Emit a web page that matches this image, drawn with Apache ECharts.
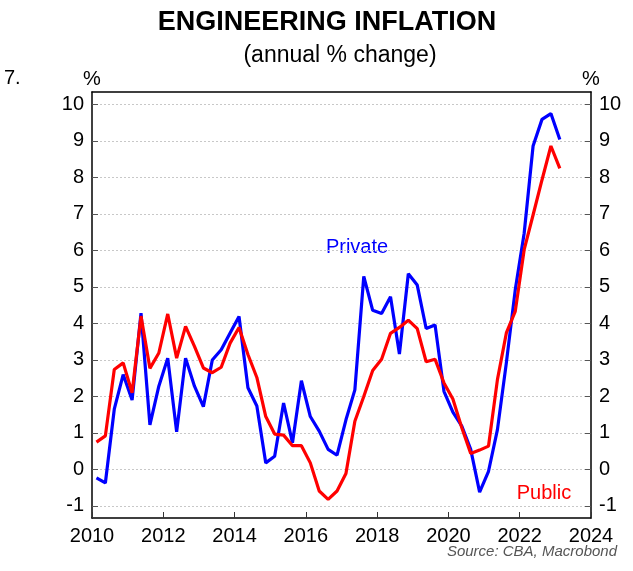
<!DOCTYPE html>
<html>
<head>
<meta charset="utf-8">
<script src="https://cdn.jsdelivr.net/npm/echarts@6/dist/echarts.min.js"></script>
<style>
html,body{margin:0;padding:0;background:#fff;}
#chart{width:633px;height:571px;}
</style>
</head>
<body>
<div id="chart"></div>
<script>
// Quarterly observations, Q1 2010 .. Q1 2023 (plotted at mid-quarter)
const startYear = 2010;
const privateVals = [
  -0.23, -0.37, 1.65, 2.60, 1.90, 4.28, 1.22, 2.28, 3.05, 1.03,
  3.05, 2.28, 1.72, 3.00, 3.28, 3.74, 4.19, 2.24, 1.74, 0.18,
  0.36, 1.82, 0.73, 2.43, 1.45, 1.05, 0.55, 0.39, 1.36, 2.18,
  5.29, 4.36, 4.27, 4.73, 3.16, 5.36, 5.05, 3.86, 3.96, 2.14,
  1.57, 1.19, 0.55, -0.62, -0.05, 1.09, 2.92, 4.92, 6.47, 8.86,
  9.59, 9.75, 9.04
];
const publicVals = [
  0.75, 0.92, 2.74, 2.92, 2.10, 4.20, 2.77, 3.19, 4.26, 3.05,
  3.92, 3.37, 2.78, 2.65, 2.80, 3.46, 3.89, 3.15, 2.52, 1.45,
  0.97, 0.94, 0.65, 0.65, 0.18, -0.59, -0.82, -0.59, -0.11, 1.32,
  2.00, 2.71, 3.02, 3.73, 3.89, 4.09, 3.86, 2.95, 3.02, 2.37,
  1.93, 1.14, 0.44, 0.53, 0.64, 2.46, 3.74, 4.33, 6.02, 6.97,
  7.93, 8.86, 8.25
];
const yTicks = [-1, 0, 1, 2, 3, 4, 5, 6, 7, 8, 9, 10];
const xTicks = [2010, 2012, 2014, 2016, 2018, 2020, 2022, 2024];

// quarter index -> decimal year at mid-quarter
function qDate(i) { return startYear + Math.floor(i / 4) + ((i % 4) + 0.5) / 4; }
const privData = privateVals.map((v, i) => [qDate(i), v]);
const pubData = publicVals.map((v, i) => [qDate(i), v]);

const FONT = '"Liberation Sans", Arial, sans-serif';
const chart = echarts.init(document.getElementById('chart'), null, {renderer: 'canvas'});

const yCommon = {
  type: 'value', min: -1.33, max: 10.34,
  axisLine: {show: true, lineStyle: {color: '#000', width: 1.5}},
  axisTick: {show: true, inside: true, length: 6, customValues: yTicks, lineStyle: {color: '#555', width: 1}},
  axisLabel: {customValues: yTicks, fontSize: 20, color: '#000', fontFamily: FONT, margin: 8},
  name: '%', nameLocation: 'end', nameGap: 3,
  nameTextStyle: {fontSize: 20, color: '#000', fontFamily: FONT}
};

chart.setOption({
  animation: false,
  backgroundColor: '#fff',
  grid: {left: 92, right: 42, top: 92, bottom: 53, containLabel: false},
  xAxis: [{
    type: 'value', min: 2010, max: 2024, interval: 2,
    axisLine: {show: true, onZero: false, lineStyle: {color: '#000', width: 1.5}},
    axisTick: {show: true, inside: true, length: 6, lineStyle: {color: '#333', width: 1}},
    axisLabel: {fontSize: 20, color: '#000', fontFamily: FONT, margin: 8, formatter: v => String(v)},
    splitLine: {show: false}
  }, {
    type: 'value', min: 2010, max: 2024, position: 'top',
    axisLine: {show: true, onZero: false, lineStyle: {color: '#000', width: 1.5}},
    axisTick: {show: false}, axisLabel: {show: false}, splitLine: {show: false}
  }],
  yAxis: [
    Object.assign({}, yCommon, {
      position: 'left',
      splitLine: {show: true, lineStyle: {color: '#c8c8c8', type: [2, 2], width: 1}}
    }),
    Object.assign({}, yCommon, {
      position: 'right',
      splitLine: {show: false}
    })
  ],
  series: [
    {name: 'Private', type: 'line', data: privData, showSymbol: false, symbol: 'none',
     lineStyle: {color: '#0000ff', width: 3.2}, itemStyle: {color: '#0000ff'}, z: 2},
    {name: 'Public', type: 'line', data: pubData, showSymbol: false, symbol: 'none',
     lineStyle: {color: '#ff0000', width: 3.2}, itemStyle: {color: '#ff0000'}, z: 3}
  ],
  graphic: [
    {type: 'text', x: 327, y: 23, style: {text: 'ENGINEERING INFLATION', fill: '#000', font: 'bold 27px ' + FONT, align: 'center', verticalAlign: 'middle'}},
    {type: 'text', x: 340, y: 56, style: {text: '(annual % change)', fontSize: 23, fill: '#000', fontFamily: FONT, align: 'center', verticalAlign: 'middle'}},
    {type: 'text', x: 4, y: 78, style: {text: '7.', fontSize: 20, fill: '#000', fontFamily: FONT, align: 'left', verticalAlign: 'middle'}},
    {type: 'text', x: 357, y: 247, style: {text: 'Private', fontSize: 20, fill: '#0000ff', fontFamily: FONT, align: 'center', verticalAlign: 'middle'}},
    {type: 'text', x: 544, y: 493, style: {text: 'Public', fontSize: 20, fill: '#ff0000', fontFamily: FONT, align: 'center', verticalAlign: 'middle'}},
    {type: 'text', x: 617, y: 552, style: {text: 'Source: CBA, Macrobond', fontSize: 15, fontStyle: 'italic', fill: '#555', fontFamily: FONT, align: 'right', verticalAlign: 'middle'}}
  ]
});
</script>
</body>
</html>
